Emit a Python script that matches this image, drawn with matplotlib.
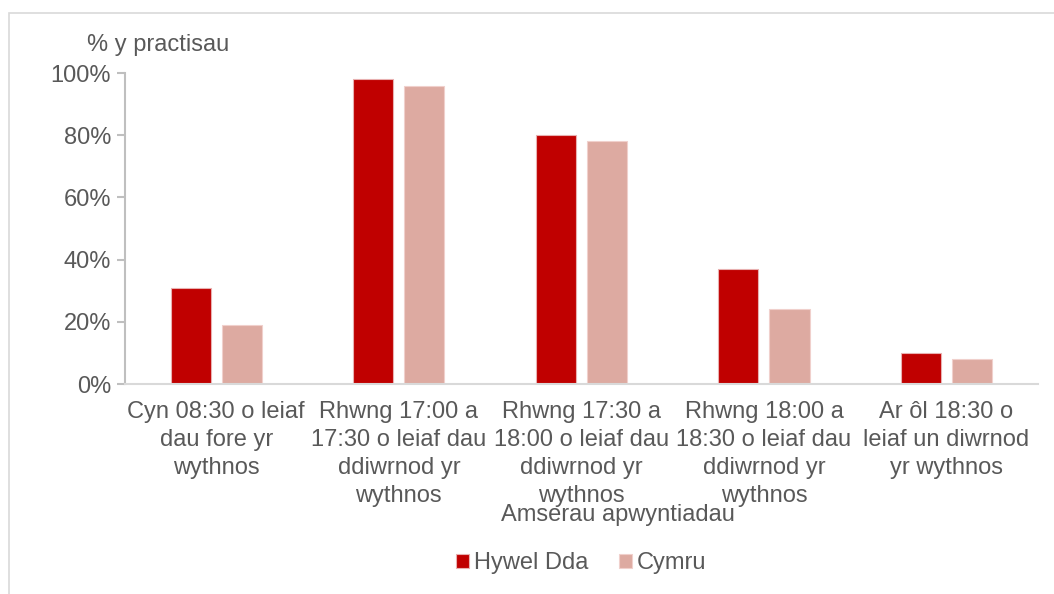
import matplotlib.pyplot as plt
import numpy as np
from matplotlib.patches import Rectangle
from matplotlib.ticker import PercentFormatter

plt.rcParams["font.family"] = ["Liberation Sans", "DejaVu Sans"]

# ---- data ----
categories = [
    "Cyn 08:30 o leiaf\ndau fore yr\nwythnos",
    "Rhwng 17:00 a\n17:30 o leiaf dau\nddiwrnod yr\nwythnos",
    "Rhwng 17:30 a\n18:00 o leiaf dau\nddiwrnod yr\nwythnos",
    "Rhwng 18:00 a\n18:30 o leiaf dau\nddiwrnod yr\nwythnos",
    "Ar ôl 18:30 o\nleiaf un diwrnod\nyr wythnos",
]
hywel_dda = [31, 98, 80, 37, 10]
cymru = [19, 96, 78, 24, 8]
series_names = ["Hywel Dda", "Cymru"]

TXT = "#595959"
C1 = "#C00000"
C2 = "#DDAAA1"
FS = 17

fig = plt.figure(figsize=(10.54, 5.94), dpi=100)
ax = fig.add_axes([0.1186, 0.3535, 0.866, 0.5235])

# outer chart frame
fig.patches.append(Rectangle((9 / 1054, -0.05), 1.2, 1 - 13 / 594 + 0.05,
                             transform=fig.transFigure, fill=False,
                             edgecolor="#D9D9D9", linewidth=1.2))

x = np.arange(len(categories))
w = 0.22
off = 0.14
ax.bar(x - off, hywel_dda, w, color=C1, edgecolor="#E8B0B0", linewidth=0.8,
       label=series_names[0])
ax.bar(x + off, cymru, w, color=C2, edgecolor="#F0D0CC", linewidth=0.8,
       label=series_names[1])

ax.set_xlim(-0.5, len(categories) - 0.5)
ax.set_ylim(0, 100)
ax.set_yticks(range(0, 101, 20))
ax.yaxis.set_major_formatter(PercentFormatter(decimals=0))
ax.set_xticks(x)
ax.set_xticklabels(categories, linespacing=1.36)

for s in ["top", "right"]:
    ax.spines[s].set_visible(False)
ax.spines["left"].set_color("#BFBFBF")
ax.spines["left"].set_linewidth(1.5)
ax.spines["bottom"].set_color("#D9D9D9")
ax.spines["bottom"].set_linewidth(1.5)
ax.tick_params(axis="y", length=6, width=1.5, color="#BFBFBF", labelsize=FS,
               labelcolor=TXT, pad=4)
ax.tick_params(axis="x", length=0, labelsize=FS, labelcolor=TXT, pad=12)

fig.text(87 / 1054, 1 - 45 / 594, "% y practisau", fontsize=FS, color=TXT,
         va="center", ha="left")
fig.text(618 / 1054, 1 - 515 / 594, "Amserau apwyntiadau", fontsize=FS,
         color=TXT, va="center", ha="center")

fig.legend(loc="center", bbox_to_anchor=(581 / 1054, 1 - 563 / 594), ncol=2,
           frameon=False, fontsize=FS, labelcolor=TXT, handlelength=0.55,
           handleheight=0.55, handletextpad=0.2, columnspacing=1.3)

fig.savefig("out.png", dpi=100)
